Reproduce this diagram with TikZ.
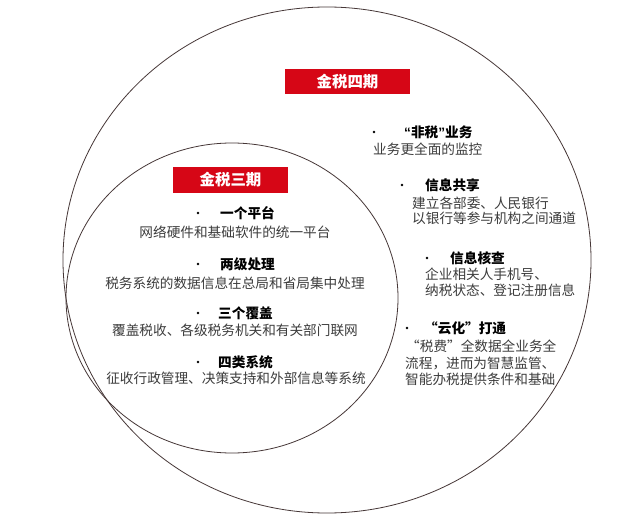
\documentclass[tikz,border=0pt]{standalone}
\usepackage{fontspec}
\newfontfamily\cjk{Noto Sans CJK SC}
\newfontfamily\latq{Liberation Sans}
\definecolor{boxred}{RGB}{214,6,22}
\definecolor{linecol}{RGB}{70,55,55}
\definecolor{desccol}{RGB}{60,60,60}
\tikzset{
  desc/.style={font=\cjk\fontsize{13.7}{16}\selectfont, text=desccol, inner sep=0pt},
  ttl/.style={font=\cjk\bfseries\fontsize{13.7}{16}\selectfont, text=black, inner sep=0pt},
  bul/.style={circle, fill=black, inner sep=0pt, minimum size=2.6bp},
  redbox/.style={fill=boxred, text=white, font=\cjk\bfseries\fontsize{15.5}{18}\selectfont, inner sep=0pt, minimum height=25bp},
  ring/.style={draw=linecol, line width=0.8bp}
}
\begin{document}
\begin{tikzpicture}[x=1bp,y=-1bp]
\useasboundingbox[fill=white] (0,0) rectangle (640,523);
% ellipses
\draw[ring] (327,260) ellipse [x radius=264bp, y radius=253bp];
\draw[ring] (232,298) ellipse [x radius=166bp, y radius=155bp];
% red boxes
\node[redbox, minimum width=125bp] (t4) at (347.5,82) {金税四期};
\node[redbox, minimum width=115bp, minimum height=26bp] (t3) at (230.5,180) {金税三期};
% inner (phase three) items
\node[bul] (b1) at (198,213) {};
\node[ttl, anchor=west] (h1) at (220,213) {一个平台};
\node[desc] (d1) at (235,232) {网络硬件和基础软件的统一平台};
\node[bul] (b2) at (198,264) {};
\node[ttl, anchor=west] (h2) at (220,264) {两级处理};
\node[desc] (d2) at (235,283) {税务系统的数据信息在总局和省局集中处理};
\node[bul] (b3) at (198,313) {};
\node[ttl, anchor=west] (h3) at (218,313) {三个覆盖};
\node[desc] (d3) at (235,330) {覆盖税收、各级税务机关和有关部门联网};
\node[bul] (b4) at (198,362) {};
\node[ttl, anchor=west] (h4) at (218,362) {四类系统};
\node[desc] (d4) at (236,378) {征收行政管理、决策支持和外部信息等系统};
% outer (phase four) items
\node[bul] (c1) at (374,132) {};
\node[ttl, anchor=west] (g1) at (404,132) {{\latq\bfseries “}非税{\latq\bfseries ”}业务};
\node[desc, anchor=west] (e1) at (373,149) {业务更全面的监控};
\node[bul] (c2) at (402,185) {};
\node[ttl, anchor=west] (g2) at (425,185) {信息共享};
\node[desc, anchor=west] (e2a) at (412,203) {建立各部委、人民银行};
\node[desc, anchor=west] (e2b) at (412,218) {以银行等参与机构之间通道};
\node[bul] (c3) at (427,258) {};
\node[ttl, anchor=west] (g3) at (450,258) {信息核查};
\node[desc, anchor=west] (e3a) at (425,274) {企业相关人手机号、};
\node[desc, anchor=west] (e3b) at (425,290) {纳税状态、登记注册信息};
\node[bul] (c4) at (407,328) {};
\node[ttl, anchor=west] (g4) at (424,328) {“云化”打通};
\node[desc, anchor=west] (e4a) at (406,346) {“税费”全数据全业务全};
\node[desc, anchor=west] (e4b) at (405,363) {流程，进而为智慧监管、};
\node[desc, anchor=west] (e4c) at (405,379) {智能办税提供条件和基础};
\end{tikzpicture}
\end{document}
